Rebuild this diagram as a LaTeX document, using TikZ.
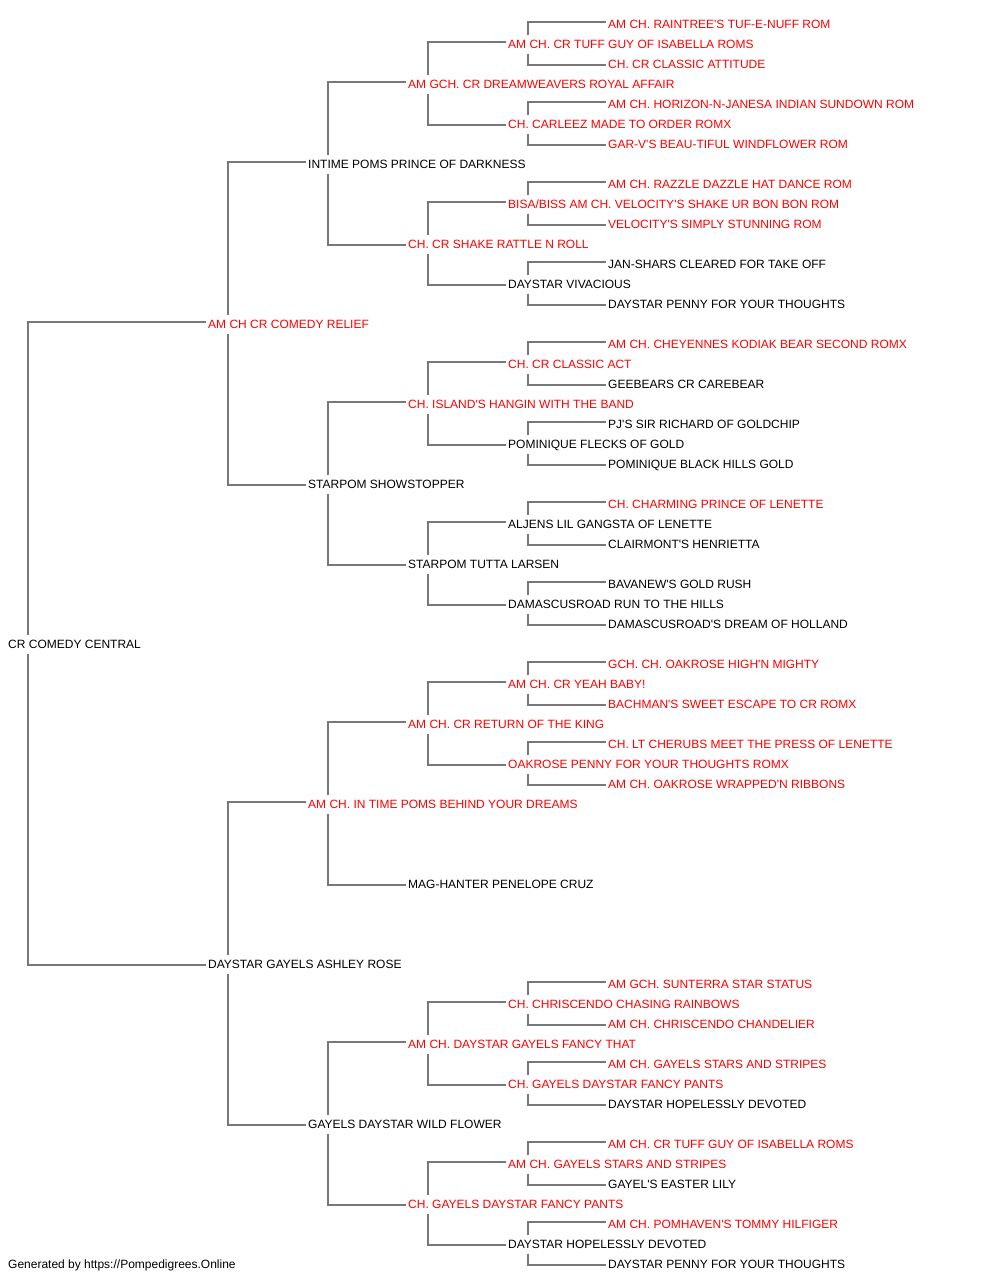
\documentclass[tikz,border=0pt]{standalone}
\usepackage{fontspec}
\setmainfont{Liberation Sans}[Ligatures=TeXOff]
\definecolor{linegray}{RGB}{120,120,120}
\definecolor{pedred}{RGB}{255,0,0}
\newcommand\brk[1]{%
  \draw[conn] ([xshift=-2pt,yshift=6pt]#1s.base west) -| ([xshift=20pt,yshift=13pt]#1.base west);
  \draw[conn] ([xshift=-2pt,yshift=3pt]#1d.base west) -| ([xshift=20pt,yshift=-6pt]#1.base west);
}
\begin{document}
\begin{tikzpicture}[x=1pt,y=-1pt,
  conn/.style={draw=linegray,line width=1.3pt},
  nm/.style={anchor=base west,inner sep=0pt,font=\fontsize{12}{14}\selectfont},
  champ/.style={nm,text=pedred},
  plain/.style={nm,text=black}]
\useasboundingbox (0,0) rectangle (1000,1280);
% generation 0
\node[plain] (r) at (8,648) {CR COMEDY CENTRAL};
% generation 1
\node[champ] (rs) at (208,328) {AM CH CR COMEDY RELIEF};
\node[plain] (rd) at (208,968) {DAYSTAR GAYELS ASHLEY ROSE};
% generation 2
\node[plain] (rss) at (308,168) {INTIME POMS PRINCE OF DARKNESS};
\node[plain] (rsd) at (308,488) {STARPOM SHOWSTOPPER};
\node[champ] (rds) at (308,808) {AM CH. IN TIME POMS BEHIND YOUR DREAMS};
\node[plain] (rdd) at (308,1128) {GAYELS DAYSTAR WILD FLOWER};
% generation 3
\node[champ] (rsss) at (408,88) {AM GCH. CR DREAMWEAVERS ROYAL AFFAIR};
\node[champ] (rssd) at (408,248) {CH. CR SHAKE RATTLE N ROLL};
\node[champ] (rsds) at (408,408) {CH. ISLAND'S HANGIN WITH THE BAND};
\node[plain] (rsdd) at (408,568) {STARPOM TUTTA LARSEN};
\node[champ] (rdss) at (408,728) {AM CH. CR RETURN OF THE KING};
\node[plain] (rdsd) at (408,888) {MAG-HANTER PENELOPE CRUZ};
\node[champ] (rdds) at (408,1048) {AM CH. DAYSTAR GAYELS FANCY THAT};
\node[champ] (rddd) at (408,1208) {CH. GAYELS DAYSTAR FANCY PANTS};
% generation 4
\node[champ] (rssss) at (508,48) {AM CH. CR TUFF GUY OF ISABELLA ROMS};
\node[champ] (rsssd) at (508,128) {CH. CARLEEZ MADE TO ORDER ROMX};
\node[champ] (rssds) at (508,208) {BISA/BISS AM CH. VELOCITY'S SHAKE UR BON BON ROM};
\node[plain] (rssdd) at (508,288) {DAYSTAR VIVACIOUS};
\node[champ] (rsdss) at (508,368) {CH. CR CLASSIC ACT};
\node[plain] (rsdsd) at (508,448) {POMINIQUE FLECKS OF GOLD};
\node[plain] (rsdds) at (508,528) {ALJENS LIL GANGSTA OF LENETTE};
\node[plain] (rsddd) at (508,608) {DAMASCUSROAD RUN TO THE HILLS};
\node[champ] (rdsss) at (508,688) {AM CH. CR YEAH BABY!};
\node[champ] (rdssd) at (508,768) {OAKROSE PENNY FOR YOUR THOUGHTS ROMX};
\node[champ] (rddss) at (508,1008) {CH. CHRISCENDO CHASING RAINBOWS};
\node[champ] (rddsd) at (508,1088) {CH. GAYELS DAYSTAR FANCY PANTS};
\node[champ] (rddds) at (508,1168) {AM CH. GAYELS STARS AND STRIPES};
\node[plain] (rdddd) at (508,1248) {DAYSTAR HOPELESSLY DEVOTED};
% generation 5
\node[champ] (rsssss) at (608,28) {AM CH. RAINTREE'S TUF-E-NUFF ROM};
\node[champ] (rssssd) at (608,68) {CH. CR CLASSIC ATTITUDE};
\node[champ] (rsssds) at (608,108) {AM CH. HORIZON-N-JANESA INDIAN SUNDOWN ROM};
\node[champ] (rsssdd) at (608,148) {GAR-V'S BEAU-TIFUL WINDFLOWER ROM};
\node[champ] (rssdss) at (608,188) {AM CH. RAZZLE DAZZLE HAT DANCE ROM};
\node[champ] (rssdsd) at (608,228) {VELOCITY'S SIMPLY STUNNING ROM};
\node[plain] (rssdds) at (608,268) {JAN-SHARS CLEARED FOR TAKE OFF};
\node[plain] (rssddd) at (608,308) {DAYSTAR PENNY FOR YOUR THOUGHTS};
\node[champ] (rsdsss) at (608,348) {AM CH. CHEYENNES KODIAK BEAR SECOND ROMX};
\node[plain] (rsdssd) at (608,388) {GEEBEARS CR CAREBEAR};
\node[plain] (rsdsds) at (608,428) {PJ'S SIR RICHARD OF GOLDCHIP};
\node[plain] (rsdsdd) at (608,468) {POMINIQUE BLACK HILLS GOLD};
\node[champ] (rsddss) at (608,508) {CH. CHARMING PRINCE OF LENETTE};
\node[plain] (rsddsd) at (608,548) {CLAIRMONT'S HENRIETTA};
\node[plain] (rsddds) at (608,588) {BAVANEW'S GOLD RUSH};
\node[plain] (rsdddd) at (608,628) {DAMASCUSROAD'S DREAM OF HOLLAND};
\node[champ] (rdssss) at (608,668) {GCH. CH. OAKROSE HIGH'N MIGHTY};
\node[champ] (rdsssd) at (608,708) {BACHMAN'S SWEET ESCAPE TO CR ROMX};
\node[champ] (rdssds) at (608,748) {CH. LT CHERUBS MEET THE PRESS OF LENETTE};
\node[champ] (rdssdd) at (608,788) {AM CH. OAKROSE WRAPPED'N RIBBONS};
\node[champ] (rddsss) at (608,988) {AM GCH. SUNTERRA STAR STATUS};
\node[champ] (rddssd) at (608,1028) {AM CH. CHRISCENDO CHANDELIER};
\node[champ] (rddsds) at (608,1068) {AM CH. GAYELS STARS AND STRIPES};
\node[plain] (rddsdd) at (608,1108) {DAYSTAR HOPELESSLY DEVOTED};
\node[champ] (rdddss) at (608,1148) {AM CH. CR TUFF GUY OF ISABELLA ROMS};
\node[plain] (rdddsd) at (608,1188) {GAYEL'S EASTER LILY};
\node[champ] (rdddds) at (608,1228) {AM CH. POMHAVEN'S TOMMY HILFIGER};
\node[plain] (rddddd) at (608,1268) {DAYSTAR PENNY FOR YOUR THOUGHTS};
% footer
\node[plain] (foot) at (8,1268) {Generated by https://Pompedigrees.Online};
% connectors
\brk{r}
\brk{rs}\brk{rd}
\brk{rss}\brk{rsd}\brk{rds}\brk{rdd}
\brk{rsss}\brk{rssd}\brk{rsds}\brk{rsdd}\brk{rdss}\brk{rdds}\brk{rddd}
\brk{rssss}\brk{rsssd}\brk{rssds}\brk{rssdd}\brk{rsdss}\brk{rsdsd}\brk{rsdds}\brk{rsddd}
\brk{rdsss}\brk{rdssd}\brk{rddss}\brk{rddsd}\brk{rddds}\brk{rdddd}
\end{tikzpicture}
\end{document}
